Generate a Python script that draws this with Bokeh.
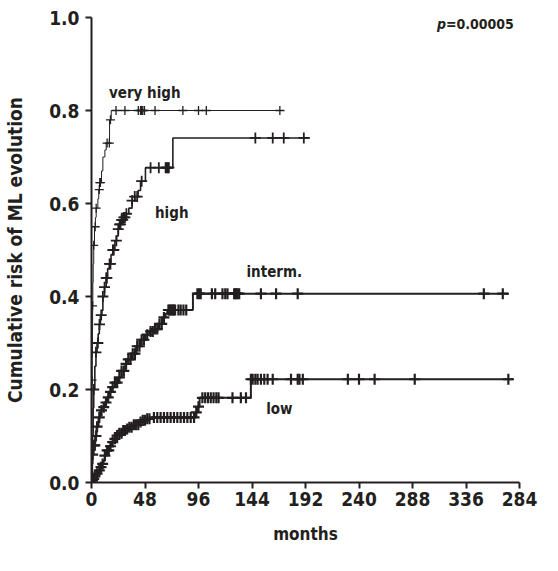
import numpy as np
from bokeh.plotting import figure
from bokeh.models import Range1d, FixedTicker, Label
from bokeh.embed import file_html
from bokeh.resources import INLINE

# ---------------- data ----------------
x_ticks = [0, 48, 96, 144, 192, 240, 288, 336, 384]
x_tick_labels = ["0", "48", "96", "144", "192", "240", "288", "336", "284"]
y_ticks = [0.0, 0.2, 0.4, 0.6, 0.8, 1.0]
y_tick_labels = ["0.0", "0.2", "0.4", "0.6", "0.8", "1.0"]

group_names = ["very high", "high", "interm.", "low"]

# very high
vh_times = [0, 0.2, 0.3, 0.4, 0.5, 0.6, 0.8, 1.0, 1.2, 1.5, 2.0, 2.7, 3.5, 4.2, 5.7, 6.5,
            7.2, 9.0, 10.2, 12.0, 13.2, 16.2, 17.7]
vh_risk = [0, 0.05, 0.10, 0.16, 0.22, 0.27, 0.33, 0.38, 0.43, 0.47, 0.51, 0.55, 0.57, 0.59,
           0.61, 0.63, 0.645, 0.67, 0.70, 0.715, 0.73, 0.78, 0.80]
vh_end = 173
vh_cens = [0.5, 1.0, 2.0, 3.3, 4.2, 7.0, 7.5, 8.0, 14.0, 16.0, 17.0, 22, 30, 42, 44, 45, 46,
           47.5, 57, 82, 96, 103, 169]

# high
hi_times = [0, 0.5, 1.0, 1.5, 2.0, 3.0, 4.0, 5.0, 6.0, 7.0, 8.0, 9.3, 10.2, 11.7, 13.2, 14.5,
            16.2, 17.5, 19.2, 21.0, 22.5, 24.0, 25.2, 27.0, 29.0, 31.3, 33.5, 36.4, 38.8, 41.8,
            44.0, 48.4, 73.0]
hi_risk = [0, 0.05, 0.10, 0.16, 0.20, 0.25, 0.28, 0.30, 0.32, 0.34, 0.36, 0.37, 0.40, 0.42,
           0.44, 0.46, 0.47, 0.49, 0.50, 0.52, 0.53, 0.545, 0.555, 0.565, 0.57, 0.578, 0.59,
           0.606, 0.615, 0.628, 0.648, 0.677, 0.741]
hi_end = 196
hi_cens = [2, 4, 5.7, 7.2, 8.7, 10.2, 11.7, 13.2, 13.8, 16.2, 17, 19.2, 20, 22.3, 24, 25.2,
           26, 27, 28, 29, 30, 31.3, 36.4, 38.8, 41, 45, 53, 60.4, 66.5, 67.5, 68.5, 69.4,
           147, 162.6, 172.5, 190.5]

# intermediate
im_times = [0, 0.3, 0.6, 1.0, 2.0, 3.3, 4.5, 6.3, 8.0, 9.3, 11.5, 13.8, 16.0, 18.3, 21.0,
            24.3, 27.0, 30.4, 33.0, 36.3, 40.0, 43.9, 48.4, 52.0, 55.9, 60.4, 63.4, 66.4,
            68.0, 91.0]
im_risk = [0, 0.02, 0.04, 0.06, 0.08, 0.10, 0.12, 0.14, 0.155, 0.162, 0.172, 0.183, 0.195,
           0.205, 0.215, 0.226, 0.24, 0.255, 0.265, 0.277, 0.293, 0.307, 0.318, 0.325, 0.33,
           0.341, 0.355, 0.363, 0.371, 0.406]
im_end = 374.5
im_cens = [1, 2, 3, 4, 5, 7, 9, 11, 13, 15, 17, 19, 21, 23, 25, 27, 29, 31, 33, 35, 37, 39,
           41, 43, 45, 47, 50, 53, 55, 57, 59, 61, 63, 65, 69, 70, 71, 72, 73, 74, 75, 78, 80,
           82.5, 85, 95, 96.5, 98, 108, 111, 117.5, 120, 122, 128, 129, 130, 131, 132.5, 152,
           165.6, 185, 352, 369]

# low
lo_times = [0, 1.0, 1.8, 3.0, 4.8, 6.0, 7.8, 9.0, 10.8, 12.0, 13.8, 16.0, 18.3, 20.5, 22.8,
            25.0, 27.3, 30.4, 33.4, 38.0, 42.4, 46.0, 49.9, 54.0, 93.0, 95.0, 97.0, 143.0]
lo_risk = [0, 0.004, 0.008, 0.013, 0.019, 0.026, 0.033, 0.04, 0.047, 0.058, 0.069, 0.078,
           0.087, 0.094, 0.101, 0.106, 0.112, 0.115, 0.119, 0.124, 0.13, 0.134, 0.137, 0.14,
           0.151, 0.163, 0.182, 0.222]
lo_end = 378.5
lo_cens = [1, 2, 3, 5, 7, 8.5, 10, 12, 14, 15.5, 17, 19, 21, 23, 25, 27, 28.5, 30, 32, 34, 36,
           38, 40, 42, 44, 46, 48, 50, 52, 56, 59, 62, 65, 68, 71, 74, 77, 80, 83, 86, 89, 92,
           94, 96, 99.5, 102, 104.5, 107, 109.5, 112, 114, 126.5, 134, 138.6, 143, 144.6, 147,
           149, 152, 155, 158, 162.6, 179, 185, 186.6, 189.6, 230, 240, 254, 290, 374]

# ---------------- figure ----------------
FONT = "DejaVu Sans Condensed, Roboto, sans-serif"
INK = "#231f20"

p = figure(width=554, height=567, output_backend="svg", toolbar_location=None,
           x_range=Range1d(0, 384), y_range=Range1d(0, 1.0),
           min_border_left=91, min_border_right=35, min_border_top=17, min_border_bottom=85)
p.outline_line_color = None
p.grid.visible = False
p.background_fill_color = "white"

for ax in (p.xaxis[0], p.yaxis[0]):
    ax.axis_line_width = 2
    ax.major_tick_line_width = 2
    ax.major_tick_out = 6
    ax.major_tick_in = 0
    ax.minor_tick_line_color = None
    ax.major_label_text_font = FONT
    ax.major_label_text_font_style = "bold"
    ax.major_label_text_font_size = "19px"
    ax.major_label_text_color = INK
    ax.axis_label_text_font = FONT
    ax.axis_label_text_font_style = "bold"
    ax.axis_label_text_font_size = "17px"
    ax.axis_label_text_color = INK
    ax.axis_line_color = INK
    ax.major_tick_line_color = INK

p.yaxis.axis_label_text_font_size = "19px"
p.xaxis.ticker = FixedTicker(ticks=x_ticks)
p.xaxis.major_label_overrides = {t: l for t, l in zip(x_ticks, x_tick_labels)}
p.yaxis.ticker = FixedTicker(ticks=y_ticks)
p.yaxis.major_label_overrides = {t: l for t, l in zip(y_ticks, y_tick_labels)}
p.xaxis.axis_label = "months"
p.yaxis.axis_label = "Cumulative risk of ML evolution"
p.xaxis.major_label_standoff = 3
p.xaxis.axis_label_standoff = 15
p.yaxis.major_label_standoff = 6
p.yaxis.axis_label_standoff = 20

groups = [
    (vh_times, vh_risk, vh_end, vh_cens, 1.0, 9, 1.3),
    (hi_times, hi_risk, hi_end, hi_cens, 1.6, 11, 1.8),
    (im_times, im_risk, im_end, im_cens, 2.0, 11, 2.2),
    (lo_times, lo_risk, lo_end, lo_cens, 2.0, 11, 2.2),
]
for times, risk, end, cens, lw, msize, mlw in groups:
    xs = list(times) + [end]
    ys = list(risk) + [risk[-1]]
    p.step(x=xs, y=ys, mode="after", line_color=INK, line_width=lw)
    t_arr = np.array(times)
    r_arr = np.array(risk)
    c = np.array(cens)
    idx = np.searchsorted(t_arr, c, side="right") - 1
    p.scatter(x=c, y=r_arr[idx], marker="cross", size=msize, line_color=INK,
              line_width=mlw)

label_pos = [(47.8, 0.837), (72, 0.58), (164, 0.452), (168.5, 0.159)]
for name, (lx, ly) in zip(group_names, label_pos):
    p.add_layout(Label(x=lx, y=ly, text=name, text_align="center", text_baseline="middle",
                       text_font=FONT, text_font_style="bold", text_font_size="15px",
                       text_color=INK))

p.add_layout(Label(x=310, y=0.985, text="p", text_align="left", text_baseline="middle",
                   text_font=FONT, text_font_style="bold italic", text_font_size="14px",
                   text_color=INK))
p.add_layout(Label(x=318, y=0.985, text="=0.00005", text_align="left", text_baseline="middle",
                   text_font=FONT, text_font_style="bold", text_font_size="14px",
                   text_color=INK))

open("out.html", "w").write(file_html(p, INLINE))
